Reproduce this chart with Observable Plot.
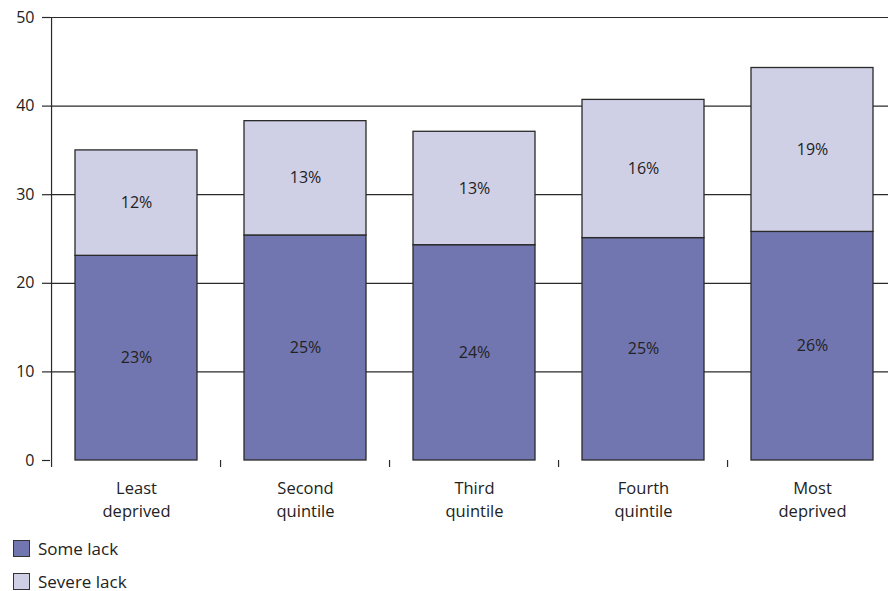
<!DOCTYPE html>
<html>
<head>
<meta charset="utf-8">
<script src="https://cdn.jsdelivr.net/npm/d3@7"></script>
<script src="https://cdn.jsdelivr.net/npm/@observablehq/plot@0.6"></script>
<style>
  body { margin: 0; background: #fff; font-family: "Open Sans", sans-serif; color: #222; }
  #chart svg { display: block; }
  .legend { padding: 2px 0 0 13px; height: 59px; overflow: hidden; }
  .legend .row { display: flex; align-items: center; height: 33px; }
  .legend .sw { width: 17px; height: 17px; border: 1.2px solid #333; box-sizing: border-box; margin-right: 8px; flex: none; }
  .legend span { font-size: 17px; line-height: 20px; }
</style>
</head>
<body>
<div id="chart"></div>
<div class="legend" id="legend"></div>
<script>
// Deprivation quintiles along the x axis
const categories = ["Least deprived", "Second quintile", "Third quintile", "Fourth quintile", "Most deprived"];
const categoryLabels = ["Least\ndeprived", "Second\nquintile", "Third\nquintile", "Fourth\nquintile", "Most\ndeprived"];

// Percentage in each level of lack
const series = ["Some lack", "Severe lack"];
const someLack = [23.1, 25.4, 24.3, 25.1, 25.8];
const severeLack = [11.9, 12.9, 12.8, 15.6, 18.5];
const colors = ["#7276b0", "#cfcfe6"];

const yTicks = [0, 10, 20, 30, 40, 50];

const rows = [];
categories.forEach((c, i) => {
  rows.push({category: c, series: series[0], value: someLack[i]});
  rows.push({category: c, series: series[1], value: severeLack[i]});
});

const width = 888, height = 530;
const xRange = [49.3, 898.8];
const halfStep = (xRange[1] - xRange[0]) / categories.length / 2;
const labelOf = new Map(categories.map((c, i) => [c, categoryLabels[i]]));

const chart = Plot.plot({
  width, height,
  marginTop: 17, marginBottom: 70, marginLeft: 50, marginRight: 0,
  style: {fontFamily: "Open Sans, sans-serif", fontSize: "16px", color: "#222", background: "#fff"},
  x: {domain: categories, range: xRange, paddingInner: 0.28, paddingOuter: 0.14, axis: null, label: null},
  y: {domain: [0, 50], axis: null, label: null},
  color: {domain: series, range: colors},
  marks: [
    Plot.ruleY(yTicks.slice(1), {stroke: "#2a2a2a", strokeWidth: 1.2}),
    Plot.ruleX([categories[0]], {y1: 0, y2: 50, dx: -halfStep, stroke: "#2a2a2a", strokeWidth: 1.2}),
    Plot.axisY({ticks: yTicks, label: null, tickSize: 8, tickPadding: 8, fontSize: 16, stroke: "#2a2a2a", strokeWidth: 1.2}),
    Plot.axisX({label: null, tickSize: 7, tickFormat: () => "", dx: -halfStep, stroke: "#2a2a2a", strokeWidth: 1.2}),
    Plot.barY(rows, Plot.stackY({x: "category", y: "value", fill: "series", stroke: "#2a2a2a", strokeWidth: 1.3})),
    Plot.text(rows, Plot.stackY({x: "category", y: "value", z: "series", text: d => Math.round(d.value) + "%", fontSize: 16, fill: "#222"})),
    Plot.text(categories, {x: d => d, text: d => labelOf.get(d), frameAnchor: "bottom", lineAnchor: "top", dy: 16, lineHeight: 1.45, fontSize: 16.5, fill: "#222"})
  ]
});
document.getElementById("chart").append(chart);

// Legend below the chart, one row per series
const legend = document.getElementById("legend");
series.forEach((s, i) => {
  const row = document.createElement("div");
  row.className = "row";
  const sw = document.createElement("div");
  sw.className = "sw";
  sw.style.background = colors[i];
  const label = document.createElement("span");
  label.textContent = s;
  row.append(sw, label);
  legend.append(row);
});
</script>
</body>
</html>
